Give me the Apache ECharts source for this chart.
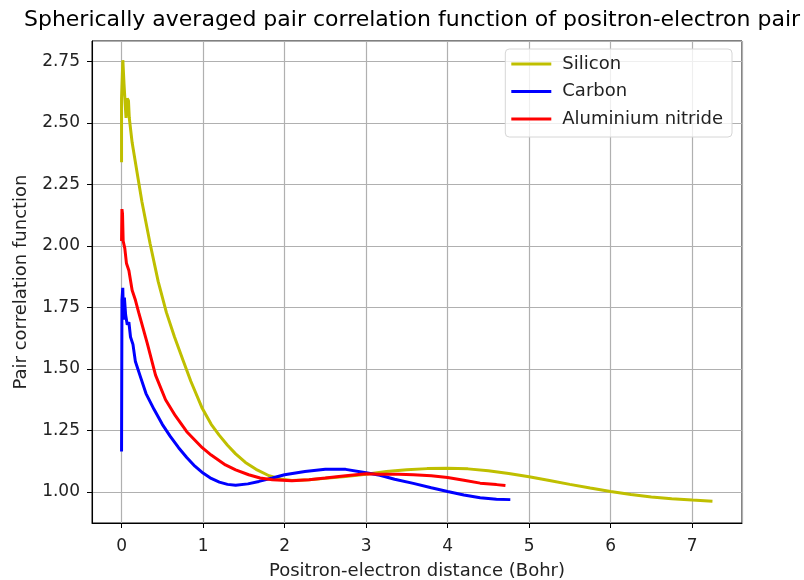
<!DOCTYPE html>
<html lang="en">
<head>
  <meta charset="UTF-8">
  <title>Pair correlation function</title>
  <script src="https://cdn.jsdelivr.net/npm/echarts@6/dist/echarts.min.js"></script>
</head>
<body style="margin:0">
  <div id="chart" style="width:804px;height:580px"></div>

  <script>
    // values (distance in Bohr, g(r))
    var siliconX = [0.0, 0.0, 0.016, 0.03, 0.055, 0.07, 0.085, 0.095, 0.13, 0.19, 0.25, 0.35, 0.45, 0.55, 0.65, 0.76, 0.85, 0.99, 1.1, 1.2, 1.3, 1.4, 1.52, 1.65, 1.81, 1.95, 2.09, 2.3, 2.5, 2.75, 3.0, 3.25, 3.5, 3.75, 4.0, 4.25, 4.5, 4.75, 5.0, 5.25, 5.5, 5.75, 6.0, 6.25, 6.5, 6.75, 7.0, 7.25]
    var siliconY = [2.34, 2.6, 2.755, 2.66, 2.52, 2.6, 2.59, 2.52, 2.42, 2.3, 2.18, 2.01, 1.855, 1.73, 1.63, 1.53, 1.45, 1.34, 1.275, 1.23, 1.19, 1.155, 1.12, 1.092, 1.066, 1.053, 1.047, 1.05, 1.056, 1.063, 1.072, 1.083, 1.09, 1.095, 1.097, 1.094, 1.086, 1.075, 1.062, 1.047, 1.031, 1.016, 1.002, 0.99, 0.98, 0.973, 0.967, 0.962]

    var carbonX = [0.0, 0.005, 0.015, 0.025, 0.035, 0.05, 0.07, 0.09, 0.11, 0.14, 0.17, 0.23, 0.3, 0.4, 0.5, 0.6, 0.7, 0.8, 0.9, 1.0, 1.1, 1.2, 1.3, 1.4, 1.55, 1.685, 1.85, 2.0, 2.25, 2.5, 2.75, 3.0, 3.17, 3.35, 3.58, 3.8, 4.0, 4.2, 4.4, 4.6, 4.77]
    var carbonY = [1.165, 1.78, 1.83, 1.7, 1.79, 1.72, 1.68, 1.69, 1.63, 1.6, 1.53, 1.47, 1.4, 1.335, 1.275, 1.225, 1.18, 1.14, 1.105, 1.077, 1.055, 1.04, 1.031, 1.027, 1.033, 1.043, 1.057, 1.07, 1.083, 1.092, 1.092, 1.078, 1.068, 1.052, 1.035, 1.017, 1.002, 0.988, 0.977, 0.971, 0.969]

    var alnX = [0.0, 0.005, 0.012, 0.02, 0.04, 0.06, 0.09, 0.13, 0.17, 0.21, 0.315, 0.417, 0.54, 0.66, 0.8, 0.99, 1.1, 1.275, 1.4, 1.56, 1.7, 1.85, 2.09, 2.3, 2.5, 2.75, 3.0, 3.17, 3.4, 3.58, 3.8, 4.0, 4.2, 4.4, 4.6, 4.71]
    var alnY = [2.02, 2.15, 2.13, 2.02, 1.99, 1.93, 1.9, 1.82, 1.78, 1.73, 1.605, 1.475, 1.375, 1.31, 1.245, 1.18, 1.15, 1.11, 1.09, 1.07, 1.057, 1.05, 1.046, 1.05, 1.057, 1.066, 1.074, 1.072, 1.072, 1.07, 1.066, 1.059, 1.048, 1.036, 1.03, 1.026]

    var seriesNames = ['Silicon', 'Carbon', 'Aluminium nitride']
    var seriesColors = ['#bfbf00', '#0000ff', '#ff0000']

    function pairs(xs, ys) {
      return xs.map(function (x, i) { return [x, ys[i]] })
    }
    var allData = [pairs(siliconX, siliconY), pairs(carbonX, carbonY), pairs(alnX, alnY)]

    var font = 'DejaVu Sans'
    var chart = echarts.init(document.getElementById('chart'))

    var option = {
      animation: false,
      backgroundColor: '#fff',
      title: {
        text: 'Spherically averaged pair correlation function of positron-electron pair',
        left: 407,
        top: 4,
        textAlign: 'center',
        textStyle: { fontFamily: font, fontSize: 22, fontWeight: 'normal', color: '#000' }
      },
      grid: {
        left: 92, right: 62, top: 41, bottom: 57,
        outerBoundsMode: 'none',
        containLabel: false,
        show: true, borderColor: '#000', borderWidth: 1
      },
      legend: {
        data: seriesNames,
        orient: 'vertical',
        right: 72,
        top: 49,
        icon: 'rect',
        itemWidth: 40,
        itemHeight: 3,
        itemGap: 9.5,
        padding: [6, 9, 9, 6],
        borderColor: '#d6d6d6',
        borderWidth: 1,
        borderRadius: 4,
        backgroundColor: 'rgba(255,255,255,0.8)',
        textStyle: { fontFamily: font, fontSize: 18, color: '#222', padding: [0, 0, 0, 6] }
      },
      xAxis: {
        type: 'value',
        min: -0.3625,
        max: 7.6125,
        minInterval: 1,
        maxInterval: 1,
        name: 'Positron-electron distance (Bohr)',
        nameLocation: 'middle',
        nameGap: 39,
        nameTextStyle: { fontFamily: font, fontSize: 18, color: '#222' },
        axisLine: { show: true, onZero: false, lineStyle: { color: '#000' } },
        axisTick: { show: true, length: 5, lineStyle: { color: '#000' } },
        axisLabel: {
          fontFamily: font, fontSize: 17, color: '#222', margin: 15,
          showMinLabel: false, showMaxLabel: false,
          formatter: function (v) { return String(Math.round(v)) }
        },
        splitLine: { show: true, lineStyle: { color: '#b0b0b0', width: 1.2 } }
      },
      yAxis: {
        type: 'value',
        min: 0.874,
        max: 2.833,
        minInterval: 0.25,
        maxInterval: 0.25,
        name: 'Pair correlation function',
        nameLocation: 'middle',
        nameGap: 62,
        nameTextStyle: { fontFamily: font, fontSize: 18, color: '#222' },
        axisLine: { show: true, onZero: false, lineStyle: { color: '#000' } },
        axisTick: { show: true, length: 5, lineStyle: { color: '#000' } },
        axisLabel: {
          fontFamily: font, fontSize: 17, color: '#222', margin: 12,
          showMinLabel: false, showMaxLabel: false,
          formatter: function (v) { return v.toFixed(2) }
        },
        splitLine: { show: true, lineStyle: { color: '#b0b0b0', width: 1.2 } }
      },
      series: seriesNames.map(function (name, i) {
        return {
          name: name,
          type: 'line',
          data: allData[i],
          showSymbol: false,
          symbol: 'none',
          color: seriesColors[i],
          lineStyle: { width: 3, color: seriesColors[i] }
        }
      })
    }
    chart.setOption(option)
  </script>
</body>
</html>
